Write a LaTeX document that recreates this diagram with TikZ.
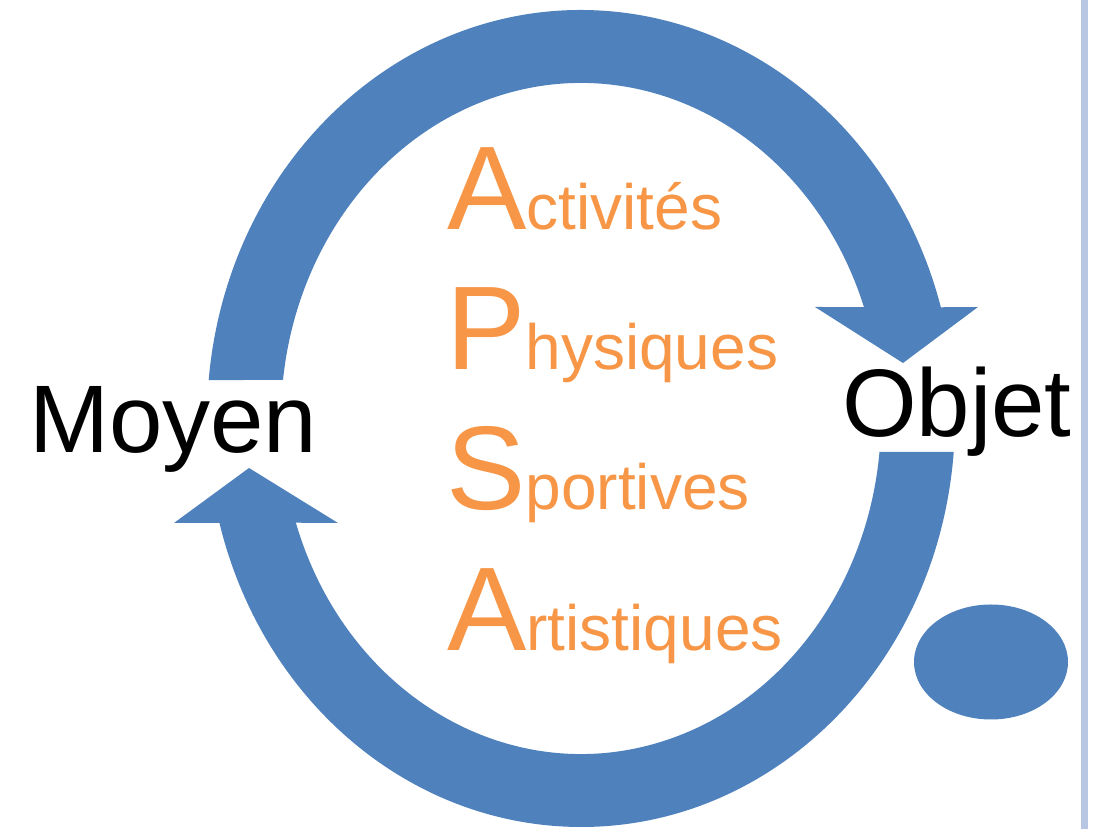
\documentclass[tikz,border=0pt]{standalone}
\usepackage{fontspec}
\setmainfont{Liberation Sans}
\definecolor{ringblue}{RGB}{79,129,189}
\definecolor{apsorange}{RGB}{247,150,70}
\definecolor{sideline}{RGB}{183,198,226}
\begin{document}
\begin{tikzpicture}[x=1pt,y=1pt,
  bluefill/.style={fill=ringblue},
  biglabel/.style={inner sep=0pt,anchor=base west,text=black,font=\fontsize{96}{96}\selectfont},
  apsline/.style={inner sep=0pt,anchor=base west,text=apsorange}]
\useasboundingbox (0,0) rectangle (1101,829);
\fill[white] (0,0) rectangle (1101,829);
\coordinate (C) at (581,410.5);
% top arc with arrow head on the right
\fill[bluefill] ([shift={(174.6:374pt and 408.5pt)}]C)
  arc[start angle=174.6, end angle=15.8, x radius=374pt, y radius=408.5pt]
  -- (978,522) -- (903,466) -- (815,522)
  -- ([shift={(19.4:300pt and 335.5pt)}]C)
  arc[start angle=19.4, end angle=173.4, x radius=300pt, y radius=335.5pt]
  -- cycle;
% bottom arc with arrow head on the left
\fill[bluefill] ([shift={(-4.7:374pt and 408.5pt)}]C)
  arc[start angle=-4.7, end angle=-165.2, x radius=374pt, y radius=408.5pt]
  -- (174,306) -- (249,361) -- (338,306)
  -- ([shift={(-161.9:300pt and 335.5pt)}]C)
  arc[start angle=-161.9, end angle=-5.73, x radius=300pt, y radius=335.5pt]
  -- cycle;
% dot
\fill[bluefill] (991,167) ellipse[x radius=77pt, y radius=57.5pt];
% side line
\fill[sideline] (1080.5,0) rectangle (1087.5,829);
% labels
\node[biglabel] (moyen) at (29,376) {Moyen};
\node[biglabel] (objet) at (842,392) {Objet};
% APSA text
\node[apsline] (l1) at (447,599) {{\fontsize{119}{119}\selectfont A}{\fontsize{64}{64}\selectfont ctivités}};
\node[apsline] (l2) at (446,459) {{\fontsize{119}{119}\selectfont P}{\fontsize{64}{64}\selectfont hysiques}};
\node[apsline] (l3) at (446,319) {{\fontsize{119}{119}\selectfont S}{\fontsize{64}{64}\selectfont portives}};
\node[apsline] (l4) at (447,178) {{\fontsize{119}{119}\selectfont A}{\fontsize{64}{64}\selectfont rtistiques}};
\end{tikzpicture}
\end{document}
